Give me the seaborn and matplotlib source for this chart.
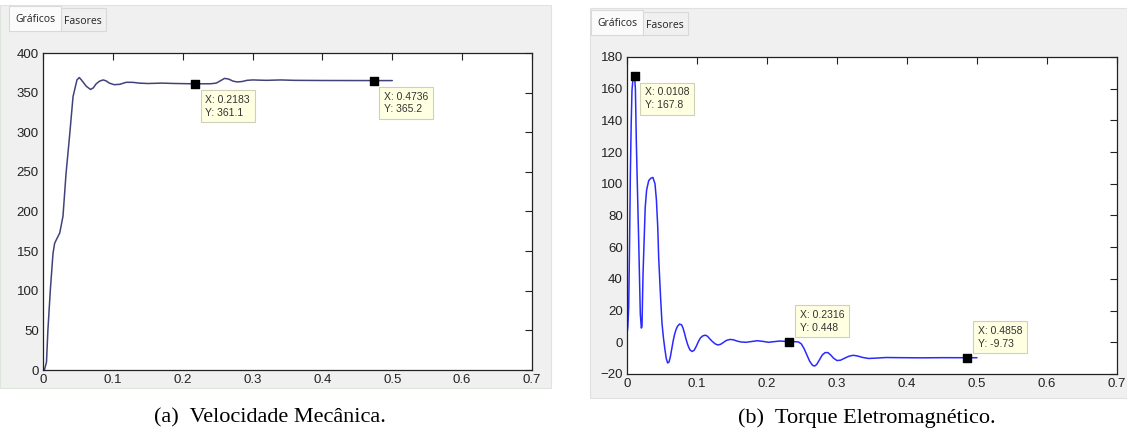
import numpy as np
import pandas as pd
import seaborn as sns
import matplotlib.pyplot as plt
from matplotlib.patches import Rectangle

# velocidade mecanica (a)
t_vel = [0, 0.002, 0.005, 0.007, 0.0105, 0.0143, 0.0167, 0.020, 0.024, 0.0286,
         0.033, 0.038, 0.043, 0.0486, 0.052, 0.055, 0.062, 0.068, 0.072, 0.076,
         0.081, 0.086, 0.090, 0.095, 0.102, 0.110, 0.119, 0.128, 0.138, 0.150,
         0.170, 0.190, 0.2183, 0.240, 0.248, 0.254, 0.260, 0.266, 0.272, 0.278,
         0.285, 0.292, 0.300, 0.320, 0.340, 0.360, 0.400, 0.4736, 0.500]
vel = [0, 0, 10, 50, 101, 147, 160, 166, 173, 194,
       248, 295, 345, 366, 369, 366, 358, 354, 356, 361,
       364.5, 366, 365, 362, 360, 360.5, 363, 363, 362, 361.5,
       362, 361.5, 361.1, 361.2, 362, 365, 368, 367, 364.5, 363.5,
       364, 365.5, 366, 365.5, 366, 365.5, 365.3, 365.2, 365.2]

# torque eletromagnetico (b)
t_tor = [0, 0.0012, 0.0024, 0.0036, 0.0048, 0.006, 0.0071, 0.0083, 0.0095, 0.0108,
         0.012, 0.0133, 0.015, 0.0167, 0.018, 0.019, 0.0205, 0.0214, 0.0229, 0.026,
         0.028, 0.031, 0.034, 0.037, 0.040, 0.042, 0.044, 0.0452, 0.048, 0.050,
         0.052, 0.054, 0.056, 0.058, 0.060, 0.062, 0.064, 0.066, 0.068, 0.070,
         0.072, 0.075, 0.078, 0.080, 0.082, 0.084, 0.086, 0.088, 0.090, 0.093,
         0.096, 0.099, 0.102, 0.105, 0.108, 0.112, 0.115, 0.118, 0.122, 0.126,
         0.130, 0.134, 0.138, 0.142, 0.147, 0.152, 0.157, 0.163, 0.170, 0.178,
         0.186, 0.194, 0.202, 0.210, 0.218, 0.225, 0.2316, 0.240, 0.245, 0.249,
         0.253, 0.257, 0.261, 0.265, 0.268, 0.271, 0.275, 0.279, 0.283, 0.287,
         0.291, 0.295, 0.300, 0.305, 0.311, 0.317, 0.323, 0.329, 0.336, 0.345,
         0.355, 0.370, 0.390, 0.420, 0.450, 0.4858, 0.500]
tor = [5, 10, 22, 60, 106, 138, 159, 165, 168, 167.8,
       160, 127, 95, 64, 38, 18, 9, 10, 43, 85,
       96, 102, 103.5, 104, 100, 90, 72, 54, 28, 12,
       3, -4, -10, -13, -12.5, -9, -4, 1, 5, 8,
       10, 11.5, 11, 9, 6, 2.5, -0.5, -3, -4.8, -5.8,
       -5, -2.5, 0.5, 2.8, 4, 4.5, 3.8, 2.3, 0.5, -1,
       -1.7, -1.2, 0, 1.2, 1.8, 1.6, 0.8, 0.2, 0, 0.5,
       1, 0.6, 0, 0.4, 0.8, 0.6, 0.448, 0.4, 0.2, -1,
       -4, -8, -12, -14.5, -15, -14, -11, -8, -6.5, -6.5,
       -8, -10, -11.5, -11.3, -10, -8.8, -8.2, -8.6, -9.5, -10.2,
       -10, -9.6, -9.7, -9.8, -9.7, -9.73, -9.73]

# datatips
tips_vel_x = [0.2183, 0.4736]
tips_vel_y = [361.1, 365.2]
tips_tor_x = [0.0108, 0.2316, 0.4858]
tips_tor_y = [167.8, 0.448, -9.73]

captions = ['(a)  Velocidade Mecânica.', '(b)  Torque Eletromagnético.']

sns.set_theme(style='white')
plt.rcParams['font.family'] = ['Liberation Sans', 'DejaVu Sans']

W, H = 1127, 444
fig = plt.figure(figsize=(W / 100, H / 100), dpi=100)
fig.patch.set_facecolor('white')


def box(x0, y0, x1, y1):
    # pixel box (top-left origin) -> figure fraction
    return [x0 / W, 1 - y1 / H, (x1 - x0) / W, (y1 - y0) / H]


def rect(x0, y0, x1, y1, fc, ec='none'):
    l, b, w, h = box(x0, y0, x1, y1)
    fig.patches.append(Rectangle((l, b), w, h, transform=fig.transFigure,
                                 facecolor=fc, edgecolor=ec, lw=0.8, zorder=-5))


# gui panels + tabs
rect(0, 5, 551, 388, '#f0f0f0', '#dde5dd')
rect(590, 8, 1127, 398, '#f0f0f0', '#e0e0e0')
for x0, y0 in [(9, 6), (591, 10)]:
    rect(x0, y0, x0 + 52, y0 + 25, '#fbfbfb', '#d9d9d9')
    rect(x0 + 52, y0 + 2, x0 + 97, y0 + 25, '#f0f0f0', '#d9d9d9')
    fig.text((x0 + 26) / W, 1 - (y0 + 13) / H, 'Gráficos', ha='center', va='center',
             fontsize=7.5, family=['Open Sans', 'DejaVu Sans'], color='#222222')
    fig.text((x0 + 74) / W, 1 - (y0 + 15) / H, 'Fasores', ha='center', va='center',
             fontsize=7.5, family=['Open Sans', 'DejaVu Sans'], color='#222222')

ax1 = fig.add_axes(box(43, 53, 532, 370))
ax2 = fig.add_axes(box(627, 57, 1117, 374))

df_vel = pd.DataFrame({'t': t_vel, 'v': vel})
df_tor = pd.DataFrame({'t': t_tor, 'T': tor})

sns.lineplot(data=df_vel, x='t', y='v', ax=ax1, color='#42427a', lw=1.1,
             sort=False, estimator=None)
sns.lineplot(data=df_tor, x='t', y='T', ax=ax2, color='#2a2aff', lw=1.1,
             sort=False, estimator=None)

ax1.set_xlim(0, 0.7)
ax1.set_ylim(0, 400)
ax1.set_yticks(np.arange(0, 401, 50))
ax2.set_xlim(0, 0.7)
ax2.set_ylim(-20, 180)
ax2.set_yticks(np.arange(-20, 181, 20))

for ax in (ax1, ax2):
    ax.set_facecolor('white')
    ax.set_xticks(np.arange(0, 0.71, 0.1))
    ax.set_xticklabels(['0', '0.1', '0.2', '0.3', '0.4', '0.5', '0.6', '0.7'])
    ax.set_xlabel('')
    ax.set_ylabel('')
    ax.tick_params(direction='in', length=5, width=0.8, top=True, right=True,
                   labelsize=9.5, labelcolor='#222222', color='#222222', pad=3)
    for s in ax.spines.values():
        s.set_color('#222222')
        s.set_linewidth(0.9)
        s.set_visible(True)


def datatips(ax, xs, ys, offs):
    ax.scatter(xs, ys, marker='s', s=40, color='black', zorder=5)
    for x, y, (dx, dy, va) in zip(xs, ys, offs):
        ax.annotate(f'X: {x:g}\nY: {y:g}', (x, y), xytext=(dx, dy),
                    textcoords='offset pixels', ha='left', va=va, fontsize=7.5,
                    color='#333333', linespacing=1.35, zorder=6,
                    bbox=dict(boxstyle='square,pad=0.45', fc='#ffffe1',
                              ec='#d0d0b8', lw=0.8))


datatips(ax1, tips_vel_x, tips_vel_y, [(10, -11, 'top'), (10, -11, 'top')])
datatips(ax2, tips_tor_x, tips_tor_y,
         [(10, -11, 'top'), (11, 9, 'bottom'), (11, 9, 'bottom')])

fig.text(270 / W, 1 - 418 / H, captions[0], ha='center', va='center',
         fontsize=16, family=['Liberation Serif', 'DejaVu Serif'], color='black')
fig.text(867 / W, 1 - 418 / H, captions[1], ha='center', va='center',
         fontsize=16, family=['Liberation Serif', 'DejaVu Serif'], color='black')

fig.savefig('out.png', dpi=100, facecolor='white')
